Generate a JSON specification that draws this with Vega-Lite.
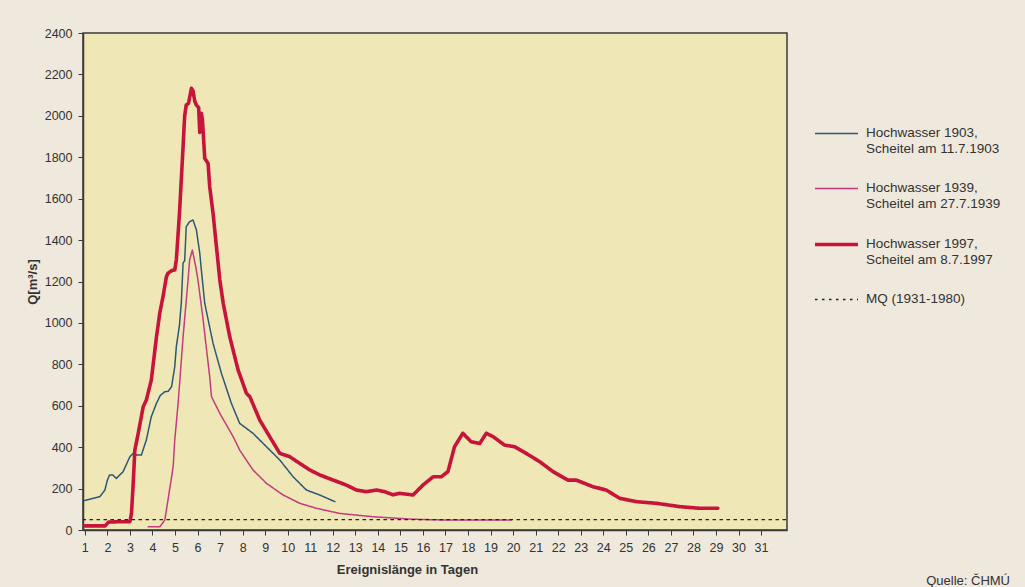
{
  "$schema": "https://vega.github.io/schema/vega-lite/v6.json",
  "width": 704,
  "height": 497,
  "autosize": {"type": "none"},
  "padding": {"left": 83, "top": 33, "right": 238, "bottom": 57},
  "background": "#efe8dc",
  "title": {"text": "Quelle: ČHMÚ", "orient": "bottom", "anchor": "end", "frame": "bounds", "fontSize": 13, "fontWeight": "normal", "font": "Liberation Sans", "color": "#333333", "offset": -2, "dx": 9},
  "config": {
    "view": {"fill": "#efe8b6", "stroke": "#3a3a3a", "strokeWidth": 1.5},
    "axis": {"labelFont": "Liberation Sans", "titleFont": "Liberation Sans", "labelColor": "#333333", "titleColor": "#333333", "domainColor": "#3a3a3a", "tickColor": "#3a3a3a", "grid": false, "labelFontSize": 12.5, "titleFontSize": 13, "titleFontWeight": "bold", "tickSize": 5, "domainWidth": 1.5},
    "legend": {"labelFont": "Liberation Sans", "labelColor": "#333333", "labelFontSize": 13.5}
  },
  "data": {"values": [
    {"s":"Hochwasser 1903, Scheitel am 11.7.1903","d":1.0,"q":142},{"s":"Hochwasser 1903, Scheitel am 11.7.1903","d":1.67,"q":161},{"s":"Hochwasser 1903, Scheitel am 11.7.1903","d":1.89,"q":193},{"s":"Hochwasser 1903, Scheitel am 11.7.1903","d":2.0,"q":240},{"s":"Hochwasser 1903, Scheitel am 11.7.1903","d":2.1,"q":266},{"s":"Hochwasser 1903, Scheitel am 11.7.1903","d":2.25,"q":265},{"s":"Hochwasser 1903, Scheitel am 11.7.1903","d":2.4,"q":249},{"s":"Hochwasser 1903, Scheitel am 11.7.1903","d":2.7,"q":282},{"s":"Hochwasser 1903, Scheitel am 11.7.1903","d":3.0,"q":354},{"s":"Hochwasser 1903, Scheitel am 11.7.1903","d":3.14,"q":370},{"s":"Hochwasser 1903, Scheitel am 11.7.1903","d":3.3,"q":362},{"s":"Hochwasser 1903, Scheitel am 11.7.1903","d":3.51,"q":362},{"s":"Hochwasser 1903, Scheitel am 11.7.1903","d":3.73,"q":435},{"s":"Hochwasser 1903, Scheitel am 11.7.1903","d":3.95,"q":547},{"s":"Hochwasser 1903, Scheitel am 11.7.1903","d":4.18,"q":612},{"s":"Hochwasser 1903, Scheitel am 11.7.1903","d":4.35,"q":650},{"s":"Hochwasser 1903, Scheitel am 11.7.1903","d":4.55,"q":668},{"s":"Hochwasser 1903, Scheitel am 11.7.1903","d":4.7,"q":670},{"s":"Hochwasser 1903, Scheitel am 11.7.1903","d":4.85,"q":692},{"s":"Hochwasser 1903, Scheitel am 11.7.1903","d":4.99,"q":789},{"s":"Hochwasser 1903, Scheitel am 11.7.1903","d":5.06,"q":885},{"s":"Hochwasser 1903, Scheitel am 11.7.1903","d":5.2,"q":990},{"s":"Hochwasser 1903, Scheitel am 11.7.1903","d":5.28,"q":1095},{"s":"Hochwasser 1903, Scheitel am 11.7.1903","d":5.36,"q":1290},{"s":"Hochwasser 1903, Scheitel am 11.7.1903","d":5.43,"q":1300},{"s":"Hochwasser 1903, Scheitel am 11.7.1903","d":5.5,"q":1465},{"s":"Hochwasser 1903, Scheitel am 11.7.1903","d":5.65,"q":1489},{"s":"Hochwasser 1903, Scheitel am 11.7.1903","d":5.8,"q":1497},{"s":"Hochwasser 1903, Scheitel am 11.7.1903","d":5.95,"q":1449},{"s":"Hochwasser 1903, Scheitel am 11.7.1903","d":6.1,"q":1337},{"s":"Hochwasser 1903, Scheitel am 11.7.1903","d":6.17,"q":1256},{"s":"Hochwasser 1903, Scheitel am 11.7.1903","d":6.32,"q":1095},{"s":"Hochwasser 1903, Scheitel am 11.7.1903","d":6.69,"q":901},{"s":"Hochwasser 1903, Scheitel am 11.7.1903","d":7.06,"q":757},{"s":"Hochwasser 1903, Scheitel am 11.7.1903","d":7.5,"q":612},{"s":"Hochwasser 1903, Scheitel am 11.7.1903","d":7.87,"q":515},{"s":"Hochwasser 1903, Scheitel am 11.7.1903","d":8.46,"q":467},{"s":"Hochwasser 1903, Scheitel am 11.7.1903","d":9.06,"q":402},{"s":"Hochwasser 1903, Scheitel am 11.7.1903","d":9.65,"q":338},{"s":"Hochwasser 1903, Scheitel am 11.7.1903","d":10.24,"q":257},{"s":"Hochwasser 1903, Scheitel am 11.7.1903","d":10.83,"q":193},{"s":"Hochwasser 1903, Scheitel am 11.7.1903","d":11.42,"q":169},{"s":"Hochwasser 1903, Scheitel am 11.7.1903","d":12.09,"q":137},
    {"s":"Hochwasser 1939, Scheitel am 27.7.1939","d":3.81,"q":16},{"s":"Hochwasser 1939, Scheitel am 27.7.1939","d":4.33,"q":16},{"s":"Hochwasser 1939, Scheitel am 27.7.1939","d":4.55,"q":48},{"s":"Hochwasser 1939, Scheitel am 27.7.1939","d":4.69,"q":145},{"s":"Hochwasser 1939, Scheitel am 27.7.1939","d":4.92,"q":306},{"s":"Hochwasser 1939, Scheitel am 27.7.1939","d":4.99,"q":435},{"s":"Hochwasser 1939, Scheitel am 27.7.1939","d":5.14,"q":612},{"s":"Hochwasser 1939, Scheitel am 27.7.1939","d":5.36,"q":933},{"s":"Hochwasser 1939, Scheitel am 27.7.1939","d":5.58,"q":1207},{"s":"Hochwasser 1939, Scheitel am 27.7.1939","d":5.65,"q":1304},{"s":"Hochwasser 1939, Scheitel am 27.7.1939","d":5.77,"q":1352},{"s":"Hochwasser 1939, Scheitel am 27.7.1939","d":5.92,"q":1272},{"s":"Hochwasser 1939, Scheitel am 27.7.1939","d":6.02,"q":1207},{"s":"Hochwasser 1939, Scheitel am 27.7.1939","d":6.25,"q":1014},{"s":"Hochwasser 1939, Scheitel am 27.7.1939","d":6.54,"q":740},{"s":"Hochwasser 1939, Scheitel am 27.7.1939","d":6.62,"q":644},{"s":"Hochwasser 1939, Scheitel am 27.7.1939","d":6.99,"q":563},{"s":"Hochwasser 1939, Scheitel am 27.7.1939","d":7.58,"q":451},{"s":"Hochwasser 1939, Scheitel am 27.7.1939","d":7.87,"q":386},{"s":"Hochwasser 1939, Scheitel am 27.7.1939","d":8.46,"q":290},{"s":"Hochwasser 1939, Scheitel am 27.7.1939","d":9.06,"q":225},{"s":"Hochwasser 1939, Scheitel am 27.7.1939","d":9.8,"q":169},{"s":"Hochwasser 1939, Scheitel am 27.7.1939","d":10.53,"q":129},{"s":"Hochwasser 1939, Scheitel am 27.7.1939","d":11.27,"q":105},{"s":"Hochwasser 1939, Scheitel am 27.7.1939","d":12.31,"q":80},{"s":"Hochwasser 1939, Scheitel am 27.7.1939","d":13.79,"q":64},{"s":"Hochwasser 1939, Scheitel am 27.7.1939","d":14.97,"q":56},{"s":"Hochwasser 1939, Scheitel am 27.7.1939","d":15.56,"q":52},{"s":"Hochwasser 1939, Scheitel am 27.7.1939","d":17.04,"q":48},{"s":"Hochwasser 1939, Scheitel am 27.7.1939","d":19.92,"q":48},
    {"s":"Hochwasser 1997, Scheitel am 8.7.1997","d":1.0,"q":20},{"s":"Hochwasser 1997, Scheitel am 8.7.1997","d":1.9,"q":20},{"s":"Hochwasser 1997, Scheitel am 8.7.1997","d":2.05,"q":38},{"s":"Hochwasser 1997, Scheitel am 8.7.1997","d":2.5,"q":40},{"s":"Hochwasser 1997, Scheitel am 8.7.1997","d":3.0,"q":40},{"s":"Hochwasser 1997, Scheitel am 8.7.1997","d":3.07,"q":80},{"s":"Hochwasser 1997, Scheitel am 8.7.1997","d":3.14,"q":209},{"s":"Hochwasser 1997, Scheitel am 8.7.1997","d":3.22,"q":386},{"s":"Hochwasser 1997, Scheitel am 8.7.1997","d":3.37,"q":467},{"s":"Hochwasser 1997, Scheitel am 8.7.1997","d":3.59,"q":595},{"s":"Hochwasser 1997, Scheitel am 8.7.1997","d":3.73,"q":628},{"s":"Hochwasser 1997, Scheitel am 8.7.1997","d":3.95,"q":724},{"s":"Hochwasser 1997, Scheitel am 8.7.1997","d":4.18,"q":933},{"s":"Hochwasser 1997, Scheitel am 8.7.1997","d":4.33,"q":1050},{"s":"Hochwasser 1997, Scheitel am 8.7.1997","d":4.47,"q":1127},{"s":"Hochwasser 1997, Scheitel am 8.7.1997","d":4.62,"q":1223},{"s":"Hochwasser 1997, Scheitel am 8.7.1997","d":4.69,"q":1240},{"s":"Hochwasser 1997, Scheitel am 8.7.1997","d":4.85,"q":1252},{"s":"Hochwasser 1997, Scheitel am 8.7.1997","d":4.99,"q":1256},{"s":"Hochwasser 1997, Scheitel am 8.7.1997","d":5.06,"q":1304},{"s":"Hochwasser 1997, Scheitel am 8.7.1997","d":5.2,"q":1530},{"s":"Hochwasser 1997, Scheitel am 8.7.1997","d":5.36,"q":1851},{"s":"Hochwasser 1997, Scheitel am 8.7.1997","d":5.43,"q":2000},{"s":"Hochwasser 1997, Scheitel am 8.7.1997","d":5.5,"q":2052},{"s":"Hochwasser 1997, Scheitel am 8.7.1997","d":5.6,"q":2060},{"s":"Hochwasser 1997, Scheitel am 8.7.1997","d":5.73,"q":2133},{"s":"Hochwasser 1997, Scheitel am 8.7.1997","d":5.8,"q":2120},{"s":"Hochwasser 1997, Scheitel am 8.7.1997","d":5.88,"q":2070},{"s":"Hochwasser 1997, Scheitel am 8.7.1997","d":5.95,"q":2052},{"s":"Hochwasser 1997, Scheitel am 8.7.1997","d":6.05,"q":2040},{"s":"Hochwasser 1997, Scheitel am 8.7.1997","d":6.1,"q":1920},{"s":"Hochwasser 1997, Scheitel am 8.7.1997","d":6.17,"q":2012},{"s":"Hochwasser 1997, Scheitel am 8.7.1997","d":6.22,"q":1980},{"s":"Hochwasser 1997, Scheitel am 8.7.1997","d":6.32,"q":1795},{"s":"Hochwasser 1997, Scheitel am 8.7.1997","d":6.47,"q":1770},{"s":"Hochwasser 1997, Scheitel am 8.7.1997","d":6.54,"q":1658},{"s":"Hochwasser 1997, Scheitel am 8.7.1997","d":6.69,"q":1529},{"s":"Hochwasser 1997, Scheitel am 8.7.1997","d":6.84,"q":1368},{"s":"Hochwasser 1997, Scheitel am 8.7.1997","d":6.99,"q":1207},{"s":"Hochwasser 1997, Scheitel am 8.7.1997","d":7.14,"q":1095},{"s":"Hochwasser 1997, Scheitel am 8.7.1997","d":7.43,"q":933},{"s":"Hochwasser 1997, Scheitel am 8.7.1997","d":7.8,"q":773},{"s":"Hochwasser 1997, Scheitel am 8.7.1997","d":8.17,"q":660},{"s":"Hochwasser 1997, Scheitel am 8.7.1997","d":8.32,"q":644},{"s":"Hochwasser 1997, Scheitel am 8.7.1997","d":8.76,"q":531},{"s":"Hochwasser 1997, Scheitel am 8.7.1997","d":9.2,"q":451},{"s":"Hochwasser 1997, Scheitel am 8.7.1997","d":9.65,"q":370},{"s":"Hochwasser 1997, Scheitel am 8.7.1997","d":10.09,"q":354},{"s":"Hochwasser 1997, Scheitel am 8.7.1997","d":10.53,"q":322},{"s":"Hochwasser 1997, Scheitel am 8.7.1997","d":10.98,"q":290},{"s":"Hochwasser 1997, Scheitel am 8.7.1997","d":11.42,"q":266},{"s":"Hochwasser 1997, Scheitel am 8.7.1997","d":12.02,"q":241},{"s":"Hochwasser 1997, Scheitel am 8.7.1997","d":12.6,"q":217},{"s":"Hochwasser 1997, Scheitel am 8.7.1997","d":13.05,"q":193},{"s":"Hochwasser 1997, Scheitel am 8.7.1997","d":13.49,"q":185},{"s":"Hochwasser 1997, Scheitel am 8.7.1997","d":13.94,"q":193},{"s":"Hochwasser 1997, Scheitel am 8.7.1997","d":14.3,"q":185},{"s":"Hochwasser 1997, Scheitel am 8.7.1997","d":14.67,"q":170},{"s":"Hochwasser 1997, Scheitel am 8.7.1997","d":14.97,"q":177},{"s":"Hochwasser 1997, Scheitel am 8.7.1997","d":15.56,"q":169},{"s":"Hochwasser 1997, Scheitel am 8.7.1997","d":16.0,"q":217},{"s":"Hochwasser 1997, Scheitel am 8.7.1997","d":16.45,"q":257},{"s":"Hochwasser 1997, Scheitel am 8.7.1997","d":16.81,"q":257},{"s":"Hochwasser 1997, Scheitel am 8.7.1997","d":17.11,"q":282},{"s":"Hochwasser 1997, Scheitel am 8.7.1997","d":17.4,"q":402},{"s":"Hochwasser 1997, Scheitel am 8.7.1997","d":17.77,"q":467},{"s":"Hochwasser 1997, Scheitel am 8.7.1997","d":18.14,"q":426},{"s":"Hochwasser 1997, Scheitel am 8.7.1997","d":18.52,"q":418},{"s":"Hochwasser 1997, Scheitel am 8.7.1997","d":18.81,"q":467},{"s":"Hochwasser 1997, Scheitel am 8.7.1997","d":19.11,"q":451},{"s":"Hochwasser 1997, Scheitel am 8.7.1997","d":19.62,"q":410},{"s":"Hochwasser 1997, Scheitel am 8.7.1997","d":20.07,"q":402},{"s":"Hochwasser 1997, Scheitel am 8.7.1997","d":20.58,"q":370},{"s":"Hochwasser 1997, Scheitel am 8.7.1997","d":21.18,"q":330},{"s":"Hochwasser 1997, Scheitel am 8.7.1997","d":21.77,"q":282},{"s":"Hochwasser 1997, Scheitel am 8.7.1997","d":22.43,"q":241},{"s":"Hochwasser 1997, Scheitel am 8.7.1997","d":22.8,"q":241},{"s":"Hochwasser 1997, Scheitel am 8.7.1997","d":23.54,"q":209},{"s":"Hochwasser 1997, Scheitel am 8.7.1997","d":24.13,"q":193},{"s":"Hochwasser 1997, Scheitel am 8.7.1997","d":24.73,"q":153},{"s":"Hochwasser 1997, Scheitel am 8.7.1997","d":25.46,"q":137},{"s":"Hochwasser 1997, Scheitel am 8.7.1997","d":26.35,"q":129},{"s":"Hochwasser 1997, Scheitel am 8.7.1997","d":27.38,"q":113},{"s":"Hochwasser 1997, Scheitel am 8.7.1997","d":28.27,"q":105},{"s":"Hochwasser 1997, Scheitel am 8.7.1997","d":29.08,"q":105},
    {"s":"MQ (1931-1980)","d":0.92,"q":50},{"s":"MQ (1931-1980)","d":32.15,"q":50}
  ]},
  "mark": {"type": "line", "clip": true, "strokeCap": "round", "strokeJoin": "round"},
  "encoding": {
    "x": {"field": "d", "type": "quantitative", "scale": {"domain": [0.92, 32.15], "nice": false, "zero": false},
      "axis": {"values": [1,2,3,4,5,6,7,8,9,10,11,12,13,14,15,16,17,18,19,20,21,22,23,24,25,26,27,28,29,30,31], "title": "Ereignislänge in Tagen", "labelPadding": 6, "titlePadding": 10, "titleX": 324}},
    "y": {"field": "q", "type": "quantitative", "scale": {"domain": [0, 2400], "nice": false},
      "axis": {"values": [0,200,400,600,800,1000,1200,1400,1600,1800,2000,2200,2400], "format": "d", "title": "Q[m³/s]", "labelPadding": 6, "titlePadding": 5}},
    "color": {"field": "s", "type": "nominal",
      "scale": {"domain": ["Hochwasser 1903, Scheitel am 11.7.1903", "Hochwasser 1939, Scheitel am 27.7.1939", "Hochwasser 1997, Scheitel am 8.7.1997", "MQ (1931-1980)"], "range": ["#2f5676", "#c23c7e", "#c8143a", "#222222"]},
      "legend": {"title": null, "orient": "none", "legendX": 730, "legendY": 78, "symbolType": "stroke", "symbolSize": 1850, "labelBaseline": "top", "labelOffset": 6, "rowPadding": 10, "padding": 0,
        "labelExpr": "indexof(datum.label, ' Scheitel') > 0 ? [substring(datum.label, 0, indexof(datum.label, ' Scheitel')), substring(datum.label, indexof(datum.label, ' Scheitel') + 1)] : datum.label",
        "labelLimit": 300,
        "encode": {
          "labels": {"update": {"dy": {"value": -8}, "lineHeight": {"value": 16.5}}}
        }}},
    "strokeWidth": {"field": "s", "type": "nominal",
      "scale": {"type": "ordinal", "domain": ["Hochwasser 1903, Scheitel am 11.7.1903", "Hochwasser 1939, Scheitel am 27.7.1939", "Hochwasser 1997, Scheitel am 8.7.1997", "MQ (1931-1980)"], "range": [1.5, 1.5, 3.6, 1.3]}},
    "strokeDash": {"field": "s", "type": "nominal",
      "scale": {"domain": ["Hochwasser 1903, Scheitel am 11.7.1903", "Hochwasser 1939, Scheitel am 27.7.1939", "Hochwasser 1997, Scheitel am 8.7.1997", "MQ (1931-1980)"], "range": [[1, 0], [1, 0], [1, 0], [2.5, 4.5]]}}
  }
}
